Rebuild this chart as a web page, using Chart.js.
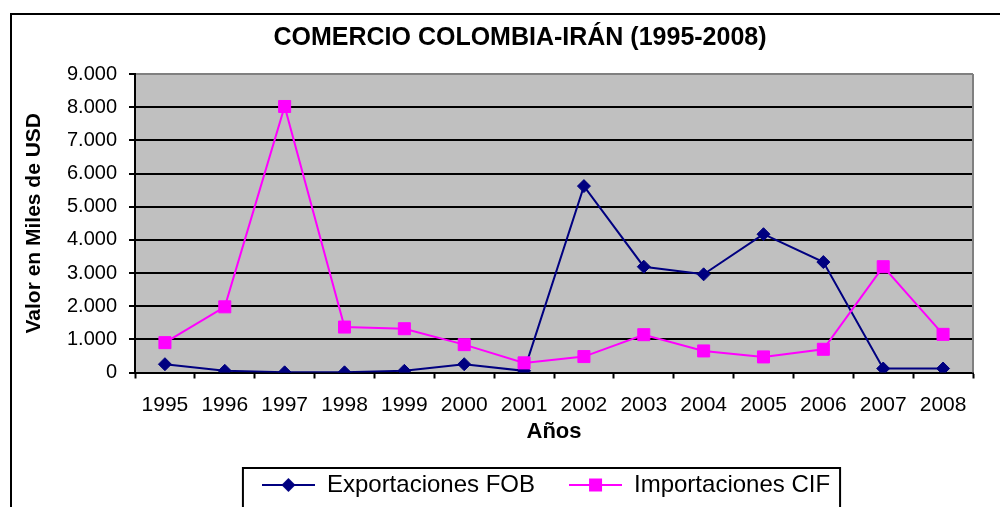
<!DOCTYPE html>
<html>
<head>
<meta charset="utf-8">
<script src="https://cdn.jsdelivr.net/npm/chart.js@4/dist/chart.umd.min.js"></script>
<style>
  html, body { margin: 0; padding: 0; background: #fff; overflow: hidden; }
  canvas { display: block; }
</style>
</head>
<body>
<canvas id="tradeChart" width="1000" height="507"></canvas>
<script>
// Data (miles de USD)
const years = ['1995', '1996', '1997', '1998', '1999', '2000', '2001', '2002', '2003', '2004', '2005', '2006', '2007', '2008'];
const exportsFOB = [250, 50, 5, 5, 50, 250, 50, 5620, 3190, 2960, 4170, 3330, 120, 120];
const importsCIF = [900, 1980, 8020, 1370, 1320, 840, 290, 480, 1140, 650, 470, 700, 3190, 1150];
const yTickLabels = ['0', '1.000', '2.000', '3.000', '4.000', '5.000', '6.000', '7.000', '8.000', '9.000'];

const NAVY = '#000080';
const MAGENTA = '#FF00FF';
const FONT = "'Liberation Sans', Arial, sans-serif";

// legend icons: short line with the marker in the middle
function makeIcon(color, shape) {
    const c = document.createElement('canvas');
    c.width = 53;
    c.height = 16;
    const g = c.getContext('2d');
    g.strokeStyle = color;
    g.lineWidth = 2;
    g.beginPath();
    g.moveTo(0, 8);
    g.lineTo(53, 8);
    g.stroke();
    g.fillStyle = color;
    g.beginPath();
    if (shape === 'diamond') {
        g.moveTo(26.5, 1); g.lineTo(33.5, 8); g.lineTo(26.5, 15); g.lineTo(19.5, 8);
        g.closePath();
    } else {
        g.rect(20, 1.5, 13, 13);
    }
    g.fill();
    return c;
}
const legendIcons = [makeIcon(NAVY, 'diamond'), makeIcon(MAGENTA, 'square')];

const framePlugin = {
    id: 'frame',
    beforeDraw(chart) {
        const ctx = chart.ctx;
        const a = chart.chartArea;
        ctx.save();
        ctx.fillStyle = '#fff';
        ctx.fillRect(0, 0, chart.width, chart.height);
        ctx.strokeStyle = '#000';
        ctx.lineWidth = 2;
        ctx.strokeRect(11, 14, 1100, 600);
        ctx.fillStyle = '#C0C0C0';
        ctx.fillRect(a.left, a.top, a.right - a.left, a.bottom - a.top);
        ctx.restore();
    },
    beforeDatasetsDraw(chart) {
        const ctx = chart.ctx;
        const a = chart.chartArea;
        ctx.save();
        ctx.strokeStyle = '#808080';
        ctx.lineWidth = 2;
        ctx.beginPath();
        ctx.moveTo(a.right, a.top);
        ctx.lineTo(a.right, a.bottom);
        ctx.stroke();
        ctx.restore();
    },
    afterLayout(chart) {
        // move the legend under the plot like the original
        const lg = chart.legend;
        const dx = 546 - (lg.left + lg.right) / 2;
        lg.left += dx;
        lg.right += dx;
    },
    afterDraw(chart) {
        const hb = chart.legend.legendHitBoxes;
        if (!hb || !hb.length) return;
        const last = hb[hb.length - 1];
        const ctx = chart.ctx;
        ctx.save();
        ctx.strokeStyle = '#000';
        ctx.lineWidth = 2;
        ctx.strokeRect(hb[0].left - 19, 468, last.left + last.width + 29 - hb[0].left, 50);
        ctx.restore();
    }
};

Chart.defaults.font.family = FONT;
Chart.defaults.color = '#000';

new Chart(document.getElementById('tradeChart'), {
    type: 'line',
    data: {
        labels: years,
        datasets: [{
            label: 'Exportaciones FOB',
            data: exportsFOB,
            borderColor: NAVY,
            backgroundColor: NAVY,
            borderWidth: 2,
            pointStyle: 'rectRot',
            pointRadius: 6.5,
            pointBorderWidth: 1,
            tension: 0,
            order: 1
        }, {
            label: 'Importaciones CIF',
            data: importsCIF,
            borderColor: MAGENTA,
            backgroundColor: MAGENTA,
            borderWidth: 2,
            pointStyle: 'rect',
            pointRadius: 8.5,
            pointBorderWidth: 1,
            tension: 0,
            order: 0
        }]
    },
    options: {
        responsive: false,
        animation: false,
        devicePixelRatio: 1,
        layout: { padding: { left: 67, right: 27, top: 0, bottom: 0 } },
        plugins: {
            tooltip: { enabled: false },
            title: {
                display: true,
                text: 'COMERCIO COLOMBIA-IRÁN (1995-2008)',
                font: { size: 25, weight: 'bold' },
                color: '#000',
                padding: { top: 23, bottom: 21 }
            },
            legend: {
                position: 'bottom',
                labels: {
                    usePointStyle: true,
                    pointStyleWidth: 53,
                    padding: 34,
                    font: { size: 24 },
                    color: '#000',
                    generateLabels(chart) {
                        return chart.data.datasets.map((ds, i) => ({
                            text: ds.label,
                            pointStyle: legendIcons[i],
                            fillStyle: ds.borderColor,
                            strokeStyle: ds.borderColor,
                            lineWidth: 0,
                            hidden: false,
                            datasetIndex: i
                        }));
                    }
                }
            }
        },
        scales: {
            x: {
                offset: true,
                grid: {
                    offset: true,
                    drawOnChartArea: false,
                    drawTicks: true,
                    tickLength: 6,
                    tickColor: '#000',
                    tickWidth: 2
                },
                border: { color: '#000', width: 2 },
                ticks: { font: { size: 21 }, padding: 14, color: '#000', maxRotation: 0 },
                title: {
                    display: true,
                    text: 'Años',
                    font: { size: 22, weight: 'bold' },
                    color: '#000',
                    padding: { top: 0, bottom: -6 }
                },
                afterFit(scale) { scale.height = 66.5; }
            },
            y: {
                min: 0,
                max: 9000,
                ticks: {
                    stepSize: 1000,
                    font: { size: 20 },
                    padding: 12,
                    color: '#000',
                    callback: (v) => yTickLabels[Math.round(v / 1000)]
                },
                grid: {
                    color: (c) => (c.tick && c.tick.value === 9000 ? '#808080' : '#000'),
                    lineWidth: 2,
                    drawTicks: true,
                    tickLength: 6,
                    tickColor: '#000',
                    tickWidth: 2
                },
                border: { color: '#000', width: 2 },
                title: {
                    display: true,
                    text: 'Valor en Miles de USD',
                    font: { size: 21, weight: 'bold' },
                    color: '#000',
                    padding: { top: -45, bottom: 0 }
                },
                afterFit(scale) { scale.width = 68; }
            }
        }
    },
    plugins: [framePlugin]
});
</script>
</body>
</html>
